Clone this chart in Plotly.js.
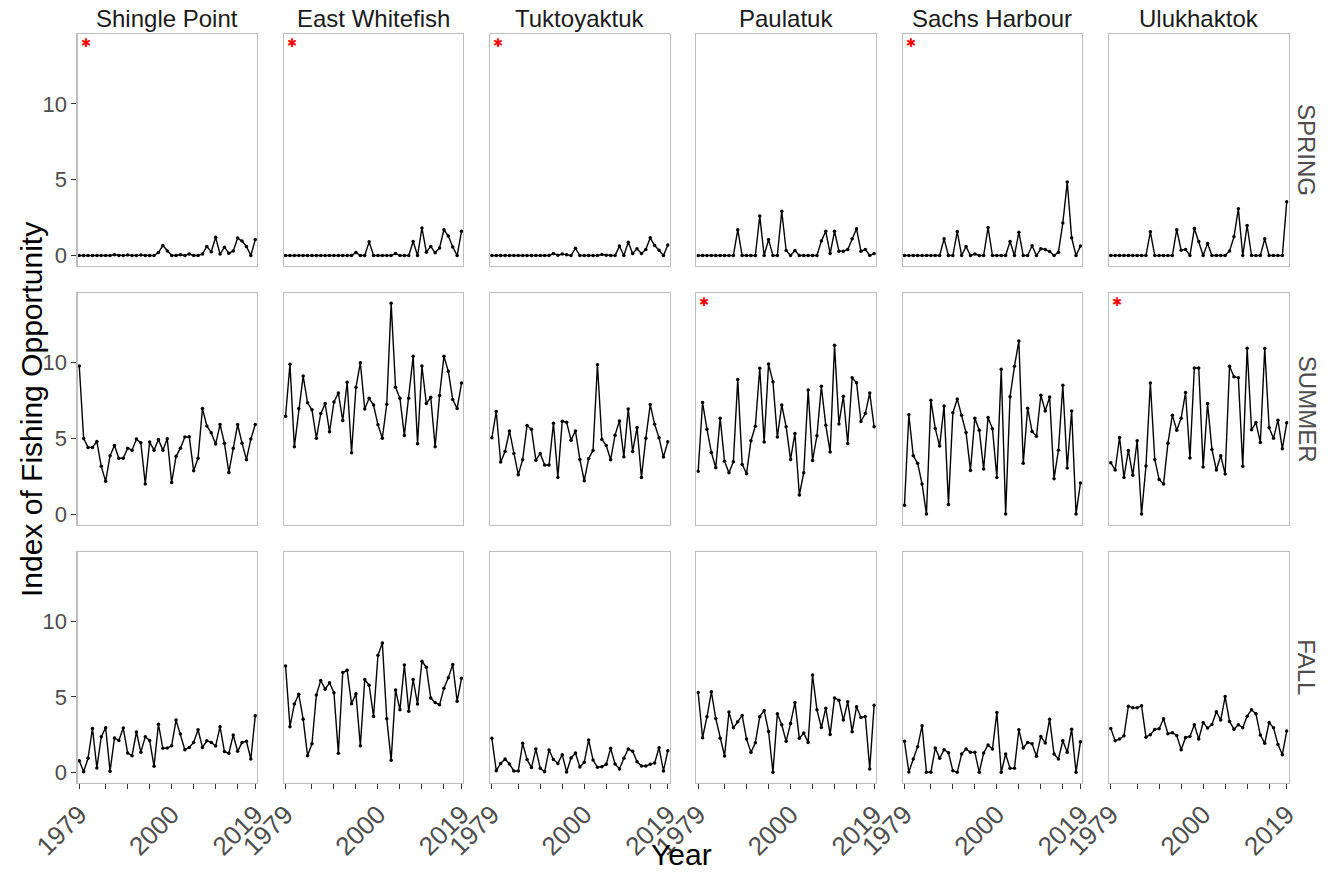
<!DOCTYPE html>
<html><head><meta charset="utf-8">
<script src="https://cdn.plot.ly/plotly-3.0.1.min.js"></script>
<style>html,body{margin:0;padding:0;background:#fff}#chart{width:1328px;height:873px}</style>
</head><body><div id="chart"></div>
<script>
const years = [1979,1980,1981,1982,1983,1984,1985,1986,1987,1988,1989,1990,1991,1992,1993,1994,1995,1996,1997,1998,1999,2000,2001,2002,2003,2004,2005,2006,2007,2008,2009,2010,2011,2012,2013,2014,2015,2016,2017,2018,2019];
const sites = ["Shingle Point","East Whitefish","Tuktoyaktuk","Paulatuk","Sachs Harbour","Ulukhaktok"];
const seasons = ["SPRING","SUMMER","FALL"];
const xTickVals = [1979,1985,1990,1995,2000,2005,2010,2015,2019];
const xTickText = ["1979","","","","2000","","","","2019"];
const yTickVals = [0,5,10];

// SPRING
const shinglePointSpring = [0,0,0,0,0,0,0,0,0.05,0,0,0.03,0,0,0.03,0,0,0,0.2,0.66,0.3,0,0,0.05,0,0.1,0,0,0.1,0.6,0.25,1.2,0.1,0.55,0.15,0.3,1.15,0.95,0.6,0,1.05];
const eastWhitefishSpring = [0,0,0,0,0,0,0,0,0,0,0,0,0,0,0,0,0.2,0,0,0.9,0,0,0,0,0,0.13,0,0,0,0.92,0,1.82,0.22,0.6,0.18,0.5,1.7,1.28,0.57,0,1.6];
const tuktoyaktukSpring = [0,0,0,0,0,0,0,0,0,0,0,0,0,0,0.13,0.02,0.1,0.05,0,0.48,0,0,0,0,0,0.07,0.02,0,0,0.62,0,0.88,0.13,0.44,0.13,0.4,1.17,0.66,0.35,0,0.7];
const paulatukSpring = [0,0,0,0,0,0,0,0,0,1.7,0,0,0,0,2.6,0,1.05,0,0,2.92,0.33,0,0.33,0,0,0,0,0,0.95,1.6,0.13,1.6,0.29,0.29,0.4,1.1,1.76,0.29,0.4,0,0.13];
const sachsHarbourSpring = [0,0,0,0,0,0,0,0,0,1.1,0,0,1.58,0,0.6,0,0.1,0,0,1.85,0,0,0,0,0.92,0,1.54,0,0,0.64,0,0.44,0.4,0.26,0,0.22,2.15,4.84,1.17,0,0.62];
const ulukhaktokSpring = [0,0,0,0,0,0,0,0,0,1.56,0,0,0,0,0,1.7,0.35,0.4,0,1.78,0.92,0,0.8,0,0,0,0,0.3,1.23,3.08,0,1.98,0,0,0,1.1,0,0,0,0,3.54];
// SUMMER
const shinglePointSummer = [9.78,5.0,4.41,4.41,4.8,3.16,2.17,3.86,4.54,3.7,3.7,4.36,4.23,4.96,4.71,2.0,4.76,4.23,4.93,4.23,4.98,2.1,3.82,4.36,5.09,5.11,2.87,3.7,6.97,5.83,5.37,4.63,5.92,4.69,2.76,4.36,5.92,4.69,3.6,4.96,5.92];
const eastWhitefishSummer = [6.47,9.89,4.45,6.97,9.12,7.35,6.89,5.02,6.64,7.3,5.44,7.41,8.0,6.18,8.71,4.06,8.38,10.0,6.95,7.65,7.21,5.9,5.02,7.26,13.93,8.38,7.65,5.2,7.65,10.42,4.65,9.78,7.3,7.72,4.45,7.83,10.42,9.43,7.57,6.97,8.66];
const tuktoyaktukSummer = [5.04,6.78,3.44,4.14,5.5,4.01,2.61,3.6,5.86,5.61,3.57,4.01,3.25,3.25,6.01,2.43,6.14,6.07,4.89,5.5,3.62,2.21,3.68,4.21,9.87,4.93,4.54,3.6,5.22,6.16,3.79,6.95,4.14,5.72,2.43,5.02,7.24,5.94,5.04,3.77,4.78];
const paulatukSummer = [2.83,7.37,5.61,4.08,3.07,6.34,3.49,2.74,3.46,8.9,3.29,2.68,4.85,5.81,9.63,4.76,9.91,8.75,5.09,7.21,5.77,3.62,5.33,1.27,2.74,8.2,3.55,5.18,8.44,5.88,4.1,11.16,5.96,7.79,4.67,9.01,8.68,6.12,6.64,8.0,5.77];
const sachsHarbourSummer = [0.59,6.56,3.86,3.36,2.0,0.02,7.52,5.66,4.5,7.15,0.64,6.69,7.61,6.54,5.39,2.89,6.34,5.55,2.98,6.38,5.64,2.43,9.56,0.02,7.76,9.76,11.43,3.36,7.0,5.46,5.15,7.85,6.82,7.74,2.35,4.23,8.51,3.05,6.82,0.02,2.06];
const ulukhaktokSummer = [3.4,2.92,5.07,2.43,4.21,2.57,4.85,0.02,3.18,8.66,3.62,2.3,2.0,4.69,6.54,5.55,6.34,8.03,3.71,9.65,9.65,3.11,7.3,4.28,2.92,3.86,2.65,9.76,9.08,9.01,3.16,10.96,5.57,6.05,4.74,10.94,5.7,5.02,6.21,4.32,6.03];
// FALL
const shinglePointFall = [0.77,0.04,0.93,2.91,0.29,2.36,2.95,0.07,2.27,2.11,2.93,1.28,1.1,2.67,1.32,2.36,2.11,0.4,3.19,1.59,1.61,1.76,3.46,2.53,1.5,1.65,1.98,2.82,1.65,2.09,1.98,1.74,3.02,1.37,1.26,2.47,1.39,1.98,2.05,0.88,3.74];
const eastWhitefishFall = [7.05,3.02,4.52,5.18,3.52,1.1,1.89,5.13,6.08,5.51,5.93,5.27,1.26,6.61,6.76,4.54,5.2,1.76,6.15,5.77,3.7,7.75,8.57,3.55,0.79,5.46,4.14,7.11,4.05,6.15,4.52,7.36,6.96,4.93,4.63,4.47,5.57,6.26,7.14,4.71,6.23];
const tuktoyaktukFall = [2.25,0.11,0.59,0.88,0.55,0.09,0.09,1.92,0.84,0.31,1.54,0.26,0.04,1.48,0.84,0.59,1.17,0.02,0.95,1.28,0.35,0.66,2.14,0.81,0.33,0.37,0.53,1.59,0.55,0.22,0.93,1.54,1.39,0.7,0.42,0.42,0.53,0.62,1.63,0.09,1.43];
const paulatukFall = [5.29,2.29,3.68,5.33,3.57,2.25,1.08,3.99,2.95,3.35,3.77,2.2,1.32,1.96,3.68,4.1,2.71,0.0,3.88,3.15,2.05,3.24,4.63,2.25,2.6,1.98,6.45,4.14,2.97,4.25,2.51,4.93,4.78,3.46,4.67,2.69,4.34,3.63,3.7,0.22,4.45];
const sachsHarbourFall = [2.05,0.02,0.88,1.7,3.08,0,0,1.61,0.93,1.5,1.3,0.11,0,1.21,1.54,1.32,1.32,0,1.28,1.81,1.54,3.96,0,1.21,0.26,0.26,2.82,1.61,1.98,1.89,1.06,2.38,1.94,3.52,1.21,0.88,2.09,1.32,2.86,0,2.03];
const ulukhaktokFall = [2.91,2.09,2.2,2.42,4.38,4.27,4.27,4.41,2.33,2.49,2.84,2.89,3.55,2.56,2.62,2.44,1.5,2.31,2.38,3.15,2.2,3.3,2.93,3.17,4.01,3.46,5.02,3.37,2.86,3.15,2.95,3.72,4.14,3.88,2.47,1.92,3.3,2.95,1.85,1.17,2.73];

// panels flagged with a red asterisk
const flaggedPanels = [["Shingle Point","SPRING"],["East Whitefish","SPRING"],["Tuktoyaktuk","SPRING"],["Sachs Harbour","SPRING"],["Paulatuk","SUMMER"],["Ulukhaktok","SUMMER"]];

const seriesTable = {
  SPRING: [shinglePointSpring, eastWhitefishSpring, tuktoyaktukSpring, paulatukSpring, sachsHarbourSpring, ulukhaktokSpring],
  SUMMER: [shinglePointSummer, eastWhitefishSummer, tuktoyaktukSummer, paulatukSummer, sachsHarbourSummer, ulukhaktokSummer],
  FALL: [shinglePointFall, eastWhitefishFall, tuktoyaktukFall, paulatukFall, sachsHarbourFall, ulukhaktokFall]
};

const W = 1328, H = 873;
const colLeft0 = 77.5, colStep = 206.3, panelW = 179.5;
const rowTop = [34, 293, 552], rowBottom = [266, 524.7, 782.7];
const xRange = [1978.6, 2019.4];
const yRange = [-0.69, 14.6];
const FONT = "Liberation Sans, Arial, Helvetica, sans-serif";
const tickFontColor = "#4D4D4D";

const traces = [];
const layout = {
  width: W, height: H,
  margin: {l: 0, r: 0, t: 0, b: 0},
  paper_bgcolor: "#FFFFFF", plot_bgcolor: "#FFFFFF",
  showlegend: false,
  font: {family: FONT},
  annotations: []
};

seasons.forEach((season, r) => {
  sites.forEach((site, c) => {
    const k = r * 6 + c + 1;
    const xs = k === 1 ? "x" : "x" + k;
    const ys = k === 1 ? "y" : "y" + k;
    const xName = k === 1 ? "xaxis" : "xaxis" + k;
    const yName = k === 1 ? "yaxis" : "yaxis" + k;
    const x0 = (colLeft0 + colStep * c) / W;
    const x1 = (colLeft0 + colStep * c + panelW) / W;
    const y1 = 1 - rowTop[r] / H;
    const y0 = 1 - rowBottom[r] / H;
    layout[xName] = {
      domain: [x0, x1], anchor: ys, range: xRange,
      showgrid: false, zeroline: false,
      showline: true, mirror: true, linecolor: "#BDBDBD", linewidth: 1.1,
      tickvals: xTickVals, ticktext: xTickText,
      ticks: r === 2 ? "outside" : "", ticklen: 5, tickcolor: "#333333", tickwidth: 1,
      showticklabels: r === 2, tickangle: -45,
      tickfont: {family: FONT, size: 26, color: tickFontColor}
    };
    layout[yName] = {
      domain: [y0, y1], anchor: xs, range: yRange,
      showgrid: false, zeroline: false,
      showline: true, mirror: true, linecolor: "#BDBDBD", linewidth: 1.1,
      tickvals: yTickVals,
      ticks: c === 0 ? "outside" : "", ticklen: 5, tickcolor: "#333333", tickwidth: 1,
      showticklabels: c === 0,
      tickfont: {family: FONT, size: 22, color: tickFontColor}
    };
    traces.push({
      type: "scatter", mode: "lines+markers",
      x: years, y: seriesTable[season][c],
      xaxis: xs, yaxis: ys,
      line: {color: "#000000", width: 1.4},
      marker: {color: "#000000", size: 3.5},
      hoverinfo: "skip"
    });
    const flagged = flaggedPanels.some(p => p[0] === site && p[1] === season);
    if (flagged) {
      layout.annotations.push({
        xref: xs + " domain", yref: ys + " domain",
        x: 0.045, y: 0.962, xanchor: "center", yanchor: "middle",
        text: "✱", showarrow: false,
        font: {family: "DejaVu Sans", size: 12, color: "#FF0000"}
      });
    }
    if (r === 0) {
      layout.annotations.push({
        xref: "paper", yref: "paper",
        x: (x0 + x1) / 2, y: 1 - 18 / H, xanchor: "center", yanchor: "middle",
        text: site, showarrow: false,
        font: {family: FONT, size: 24, color: "#1A1A1A"}
      });
    }
    if (c === 5) {
      layout.annotations.push({
        xref: "paper", yref: "paper",
        x: 1307 / W, y: (y0 + y1) / 2, xanchor: "center", yanchor: "middle",
        text: season, showarrow: false, textangle: 90,
        font: {family: FONT, size: 24, color: tickFontColor}
      });
    }
  });
});

layout.annotations.push({
  xref: "paper", yref: "paper", x: 682 / W, y: 0,
  xanchor: "center", yanchor: "bottom", text: "Year", showarrow: false,
  font: {family: FONT, size: 30, color: "#000000"}
});
layout.annotations.push({
  xref: "paper", yref: "paper", x: 31 / W, y: 1 - 410 / H,
  xanchor: "center", yanchor: "middle", text: "Index of Fishing Opportunity", showarrow: false,
  textangle: -90,
  font: {family: FONT, size: 30, color: "#000000"}
});

Plotly.newPlot("chart", traces, layout, {displayModeBar: false, staticPlot: true});
</script>
</body></html>
